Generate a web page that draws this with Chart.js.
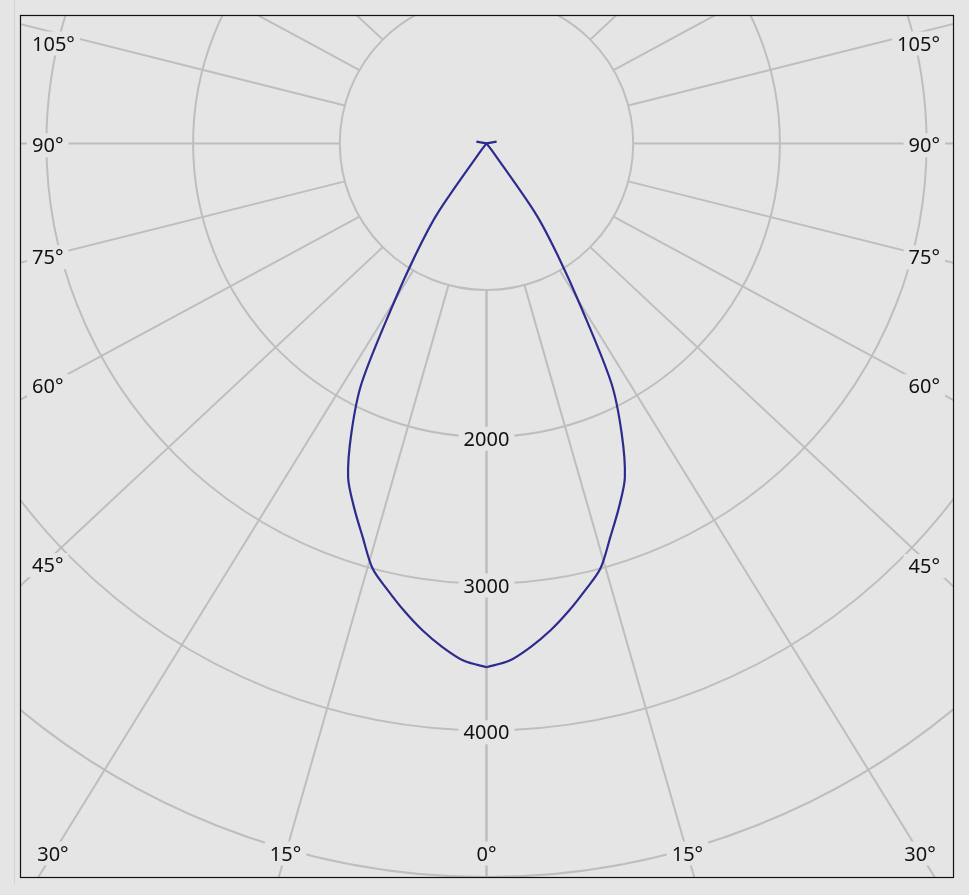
<!DOCTYPE html>
<html lang="en">
<head>
  <meta charset="UTF-8" />
  <title>Polar intensity diagram</title>
  <script src="https://cdn.jsdelivr.net/npm/chart.js"></script>
  <style>
    html, body {
      margin: 0;
      padding: 0;
      background: #e5e5e5;
    }
    .wrap {
      position: relative;
      width: 969px;
      height: 895px;
    }
    .edge {
      position: absolute;
      left: 14px;
      top: 0;
      height: 884px;
      border-left: 1px solid #d2d2d2;
    }
  </style>
</head>
<body>
  <div class="wrap">
    <div class="edge"></div>
    <canvas id="polar"></canvas>
  </div>

  <script>
    // luminous intensity (cd) against angle from nadir (degrees), symmetric
    const angles  = [0, 2.5, 5, 7.5, 10, 12.5, 15, 17.5, 20, 22.5, 25, 27.5, 30, 32.5, 35, 37.5, 40, 90, 100, 110, 180];
    const candela = [3570, 3530, 3446, 3347, 3235, 3117, 3000, 2810, 2640, 2465, 2180, 1845, 1290, 900, 580, 60, 0, 0, 70, 0, 0];

    // grid
    const rings = [1000, 2000, 3000, 4000, 5000];
    const ringLabels = [2000, 3000, 4000];
    const spokes = [0, 15, 30, 45, 60, 75, 90, 105, 120, 135, 150, 165, 180];
    const angleLabels = [0, 15, 30, 45, 60, 75, 90, 105];

    const bg = '#e5e5e5';
    const gridColor = '#bebebe';
    const curveColor = '#2d2b8e';
    const font = '20px "Noto Sans", "Liberation Sans", sans-serif';
    const spokeStretch = 1.07; // spokes in the original lean slightly outward

    const rad = d => d * Math.PI / 180;

    // build the closed curve: right half 0 -> 180, then left half 180 -> 0
    const curve = [];
    angles.forEach((a, i) => curve.push({ x: candela[i] * Math.sin(rad(a)), y: -candela[i] * Math.cos(rad(a)) }));
    for (let i = angles.length - 1; i >= 0; i--) {
      curve.push({ x: -candela[i] * Math.sin(rad(angles[i])), y: -candela[i] * Math.cos(rad(angles[i])) });
    }

    function drawLabel(ctx, text, x, yMid, align) {
      ctx.font = font;
      const w = ctx.measureText(text).width;
      let left = x;
      if (align === 'center') left = x - w / 2;
      if (align === 'right') left = x - w;
      ctx.fillStyle = bg;
      ctx.fillRect(left - 5, yMid - 12, w + 10, 24);
      ctx.fillStyle = '#111';
      ctx.textAlign = 'left';
      ctx.textBaseline = 'alphabetic';
      ctx.fillText(text, left, yMid + 7);
    }

    const polarGrid = {
      id: 'polarGrid',
      beforeDatasetsDraw(chart) {
        const { ctx, chartArea: a, scales: { x, y } } = chart;
        const cx = x.getPixelForValue(0);
        const cy = y.getPixelForValue(0);
        const rx = v => x.getPixelForValue(v) - cx;
        const ry = v => cy - y.getPixelForValue(v);

        ctx.save();
        ctx.beginPath();
        ctx.rect(a.left, a.top, a.right - a.left, a.bottom - a.top);
        ctx.clip();
        ctx.strokeStyle = gridColor;
        ctx.lineWidth = 2;

        rings.forEach(r => {
          ctx.beginPath();
          ctx.ellipse(cx, cy, rx(r), ry(r), 0, 0, 2 * Math.PI);
          ctx.stroke();
        });

        // spokes start on the first ring
        const spokeLine = (deg, side) => {
          const t = rad(deg);
          const sx = cx + side * rx(rings[0]) * Math.sin(t);
          const sy = cy + ry(rings[0]) * Math.cos(t);
          const dx = side * spokeStretch * Math.sin(t);
          const dy = Math.cos(t);
          return { sx, sy, dx, dy };
        };
        spokes.forEach(deg => [-1, 1].forEach(side => {
          const s = spokeLine(deg, side);
          ctx.beginPath();
          ctx.moveTo(s.sx, s.sy);
          ctx.lineTo(s.sx + s.dx * 2000, s.sy + s.dy * 2000);
          ctx.stroke();
        }));

        // ring values along the nadir spoke
        ringLabels.forEach(r => drawLabel(ctx, String(r), cx, cy + ry(r) + 2, 'center'));

        // angle labels where each spoke meets an inset frame
        const yTop = a.top + 28.5;
        const yBot = a.bottom - 23.5;
        angleLabels.forEach(deg => {
          const sides = deg === 0 ? [1] : [-1, 1];
          sides.forEach(side => {
            const s = spokeLine(deg, side);
            const text = deg + '°';
            if (deg === 0) {
              drawLabel(ctx, text, cx, yBot, 'center');
              return;
            }
            const xc = side < 0 ? a.left + 30 : a.right - 29;
            let yl = s.sy + (xc - s.sx) * (s.dy / s.dx);
            if (yl > yBot) {
              const xl = s.sx + (yBot - s.sy) * (s.dx / s.dy);
              drawLabel(ctx, text, xl, yBot, 'center');
            } else {
              yl = Math.max(yTop, yl + (yl > 450 ? 7 : 2));
              if (side < 0) drawLabel(ctx, text, a.left + 12, yl, 'left');
              else drawLabel(ctx, text, a.right - 13, yl, 'right');
            }
          });
        });
        ctx.restore();
      },
      afterDraw(chart) {
        const { ctx, chartArea: a } = chart;
        ctx.save();
        ctx.strokeStyle = '#111';
        ctx.lineWidth = 1.2;
        ctx.strokeRect(a.left + 0.5, a.top + 0.5, a.right - a.left, a.bottom - a.top);
        ctx.restore();
      }
    };

    new Chart(document.getElementById('polar'), {
      type: 'scatter',
      data: {
        datasets: [{
          label: 'cd',
          data: curve,
          showLine: true,
          borderColor: curveColor,
          borderWidth: 2.2,
          pointRadius: 0,
          tension: 0.3,
          fill: false
        }]
      },
      options: {
        responsive: true,
        maintainAspectRatio: false,
        animation: false,
        layout: { padding: { left: 20, top: 15, right: 16, bottom: 18 } },
        scales: {
          x: { type: 'linear', min: -3180, max: 3180, display: false },
          y: { type: 'linear', min: -5000, max: 875, display: false }
        },
        plugins: {
          legend: { display: false },
          tooltip: { enabled: false }
        }
      },
      plugins: [polarGrid]
    });
  </script>
</body>
</html>
